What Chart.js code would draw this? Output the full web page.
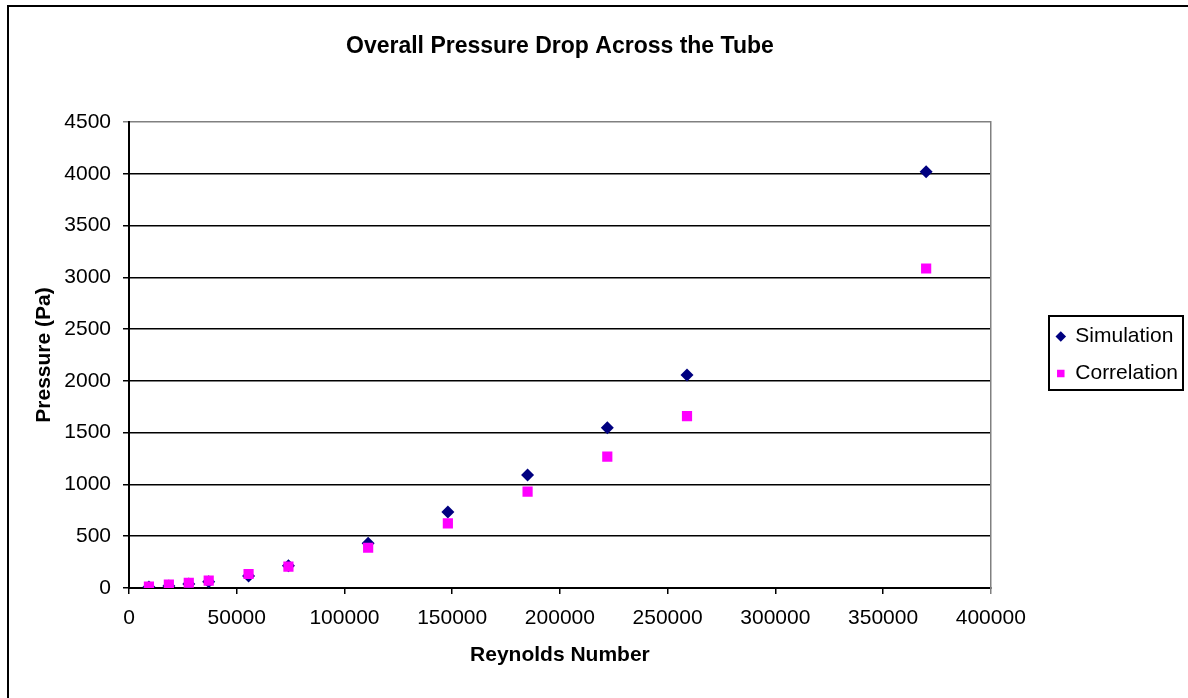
<!DOCTYPE html>
<html>
<head>
<meta charset="utf-8">
<title>Overall Pressure Drop Across the Tube</title>
<script src="https://cdn.jsdelivr.net/npm/chart.js@4.4.1/dist/chart.umd.min.js"></script>
<style>
    html, body { margin: 0; padding: 0; background: #fff; }
    #wrap { position: relative; width: 1188px; height: 698px; }
</style>
</head>
<body>
<div id="wrap"><canvas id="chart-area"></canvas></div>
<script>

/*=============================================
DATA
=============================================*/

const reynolds = [9250, 18500, 27750, 37000, 55500, 74000, 111000, 148000, 185000, 222000, 259000, 370000]

const simulation = [10, 20, 39, 61, 116, 216, 432, 735, 1090, 1547, 2056, 4020]

const correlation = [13, 32, 51, 71, 135, 206, 389, 624, 930, 1268, 1660, 3085]

const xTicks = [0, 50000, 100000, 150000, 200000, 250000, 300000, 350000, 400000]

const yTicks = [0, 500, 1000, 1500, 2000, 2500, 3000, 3500, 4000, 4500]

const seriesNames = ['Simulation', 'Correlation']

const toPoints = (xs, ys)=> xs.map((x, i)=>({ x: x, y: ys[i] }))

const fontFamily = "'Liberation Sans', Arial, sans-serif"

/*=============================================
BORDERS (chart frame + legend frame)
=============================================*/

const frames = {
    id: 'frames',
    beforeDraw: (chart)=>{
        let ctx = chart.ctx
        ctx.save()
        ctx.fillStyle = '#fff'
        ctx.fillRect(0, 0, chart.width, chart.height)
        ctx.strokeStyle = '#000'
        ctx.lineWidth = 2
        ctx.strokeRect(8, 6, chart.width + 20, chart.height + 20)
        ctx.restore()
    },
    afterDraw: (chart)=>{
        let boxes = chart.legend && chart.legend.legendHitBoxes
        if (!boxes || !boxes.length) return
        let left = Math.min(...boxes.map(b => b.left))
        let right = Math.max(...boxes.map(b => b.left + b.width))
        let top = Math.min(...boxes.map(b => b.top))
        let bottom = Math.max(...boxes.map(b => b.top + b.height))
        let ctx = chart.ctx
        ctx.save()
        ctx.strokeStyle = '#000'
        ctx.lineWidth = 2
        ctx.strokeRect(Math.round(left) - 8, Math.round(top) - 10, Math.round(right - left) + 13, Math.round(bottom - top) + 16)
        ctx.restore()
    }
}

/*=============================================
CHART
=============================================*/

let config = {
    type: 'scatter',
    data: {
        datasets: [{
            label: seriesNames[0],
            data: toPoints(reynolds, simulation),
            backgroundColor: '#000080',
            borderColor: '#000080',
            borderWidth: 0,
            pointStyle: 'rectRot',
            pointRadius: 6.5,
            pointHoverRadius: 6.5,
            order: 1
        }, {
            label: seriesNames[1],
            data: toPoints(reynolds, correlation),
            backgroundColor: '#FF00FF',
            borderColor: '#FF00FF',
            borderWidth: 0,
            pointStyle: 'rect',
            pointRadius: 7.2,
            pointHoverRadius: 7.2,
            order: 0
        }]
    },
    options: {
        responsive: true,
        maintainAspectRatio: false,
        animation: false,
        events: [],
        layout: { padding: 0 },
        plugins: {
            title: {
                display: true,
                text: 'Overall Pressure Drop Across the Tube',
                color: '#000',
                fullSize: false,
                font: { family: fontFamily, size: 23, weight: 'bold' },
                padding: { top: 33, bottom: 61.4 }
            },
            legend: {
                position: 'right',
                fullSize: false,
                labels: {
                    usePointStyle: true,
                    boxWidth: 8,
                    boxHeight: 7.5,
                    padding: 16,
                    color: '#000',
                    font: { family: fontFamily, size: 21 },
                    sort: (a, b)=> a.datasetIndex - b.datasetIndex
                }
            },
            tooltip: { enabled: false }
        },
        scales: {
            x: {
                type: 'linear',
                position: 'bottom',
                min: xTicks[0],
                max: xTicks[xTicks.length - 1],
                afterFit: s => { s.height = 110 },
                afterBuildTicks: s => { s.ticks = xTicks.map(v => ({ value: v })) },
                ticks: {
                    color: '#000',
                    padding: 12,
                    maxRotation: 0,
                    font: { family: fontFamily, size: 21 },
                    callback: v => String(v)
                },
                grid: {
                    drawOnChartArea: false,
                    drawTicks: true,
                    tickLength: 6,
                    color: ctx => ctx.tick && ctx.tick.value === xTicks[xTicks.length - 1] ? '#808080' : '#000',
                    lineWidth: 1.5
                },
                border: { display: true, color: '#000', width: 2 },
                title: {
                    display: true,
                    text: 'Reynolds Number',
                    color: '#000',
                    font: { family: fontFamily, size: 21, weight: 'bold' },
                    padding: { top: 0, bottom: 30.4 }
                }
            },
            y: {
                type: 'linear',
                position: 'left',
                min: yTicks[0],
                max: yTicks[yTicks.length - 1],
                afterFit: s => { s.width = 129 },
                afterBuildTicks: s => { s.ticks = yTicks.map(v => ({ value: v })) },
                ticks: {
                    color: '#000',
                    padding: 12,
                    font: { family: fontFamily, size: 21 },
                    callback: v => String(v)
                },
                grid: {
                    drawTicks: true,
                    tickLength: 6,
                    color: ctx => ctx.tick && ctx.tick.value === yTicks[yTicks.length - 1] ? '#808080' : '#000',
                    lineWidth: 1.5
                },
                border: { display: true, color: '#000', width: 2 },
                title: {
                    display: true,
                    text: 'Pressure (Pa)',
                    color: '#000',
                    font: { family: fontFamily, size: 21, weight: 'bold' },
                    padding: { top: 31.5, bottom: 0 }
                }
            },
            // empty right axis: draws the grey plot border and keeps the gap before the legend
            yRight: {
                type: 'linear',
                position: 'right',
                display: true,
                min: yTicks[0],
                max: yTicks[yTicks.length - 1],
                afterFit: s => { s.width = 50 },
                ticks: { display: false },
                grid: { drawOnChartArea: false, drawTicks: false },
                border: { display: true, color: '#808080', width: 1.5 }
            }
        }
    },
    plugins: [frames]
}

let ctx = document.getElementById('chart-area').getContext('2d')
window.myScatter = new Chart(ctx, config)

</script>
</body>
</html>
